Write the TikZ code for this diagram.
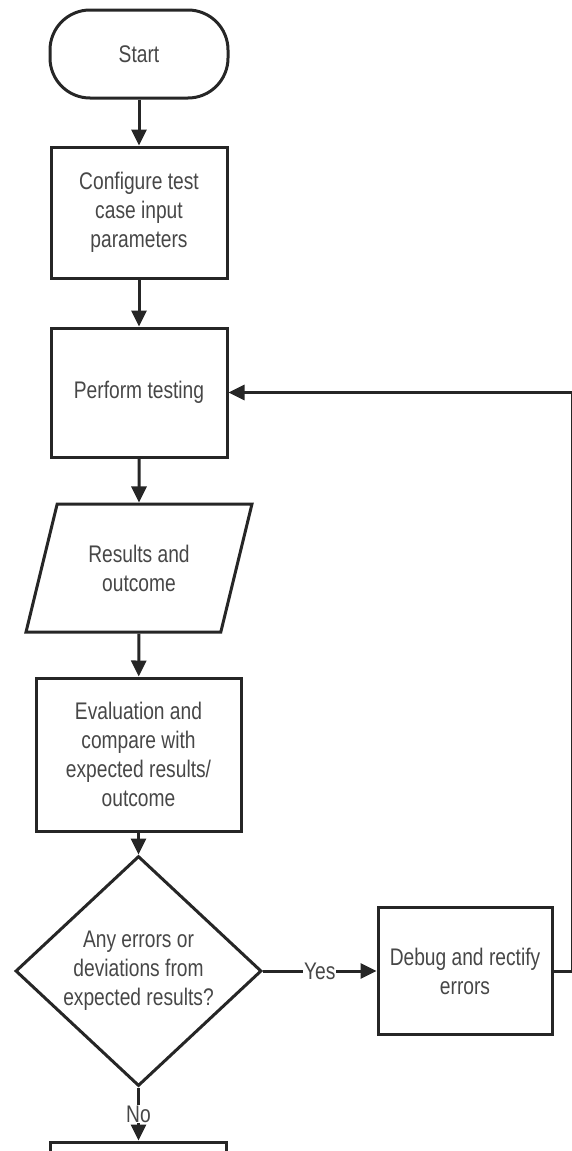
\documentclass[tikz,border=0pt]{standalone}
\usepackage{fontspec}
\setmainfont[FakeStretch=0.8]{Liberation Sans}
\usetikzlibrary{shapes.geometric,arrows.meta}

\tikzset{
  base/.style={draw=black!85, line width=3pt, align=center, text=black!72, inner sep=0pt},
  caja/.style={base, rectangle, minimum width=176pt, minimum height=130pt},
  inicio/.style={base, rectangle, rounded corners=40pt, minimum width=178pt, minimum height=88pt},
  datos/.style={base, trapezium, trapezium left angle=67.5, trapezium right angle=112.5,
    trapezium stretches=true, minimum width=226pt, minimum height=128pt},
  decision/.style={base, diamond, minimum width=246pt, minimum height=182pt},
  flecha/.style={draw=black!85, line width=3pt, -{Triangle[length=16pt,width=15pt]}},
  etiqueta/.style={fill=white, text=black!72, inner sep=1pt}
}

\begin{document}
\begin{tikzpicture}[x=1pt, y=-1pt, font=\fontsize{24}{29}\selectfont]
    \useasboundingbox (0,0) rectangle (571,1151);
    % Pasos del proceso
    \node[inicio] (start) at (139,54) {Start};
    \node[caja, minimum height=131pt] (config) at (139,212.5) {Configure test\\case input\\parameters};
    \node[caja, minimum height=129pt] (perform) at (139,392.5) {Perform testing};
    \node[datos] (results) at (139,568) {Results and\\outcome};
    \node[caja, minimum width=205pt, minimum height=153pt] (eval) at (138.5,754.5) {Evaluation and\\compare with\\expected results/\\outcome};
    % Decision y rama de depuracion
    \node[decision] (errors) at (138.5,971) {Any errors or\\deviations from\\expected results?};
    \node[caja, minimum width=174pt, minimum height=127pt] (debug) at (465,971) {Debug and rectify\\errors};
    % Caja siguiente (cortada en el borde)
    \node[caja] (next) at (138.5,1207) {};
    \coordinate (rim) at (572,700);
    % Flechas
    \draw[flecha] (start) -- (config);
    \draw[flecha] (config) -- (perform);
    \draw[flecha] (perform) -- (results);
    \draw[flecha] (results) -- (eval);
    \draw[flecha] (eval) -- (errors);
    \draw[flecha] (errors) -- node[etiqueta] {Yes} (debug);
    \draw[flecha] (errors) -- node[etiqueta] {No} (next);
    % Vuelta a la prueba
    \draw[flecha] (debug.east) -| (rim) |- (perform.east);
\end{tikzpicture}
\end{document}
